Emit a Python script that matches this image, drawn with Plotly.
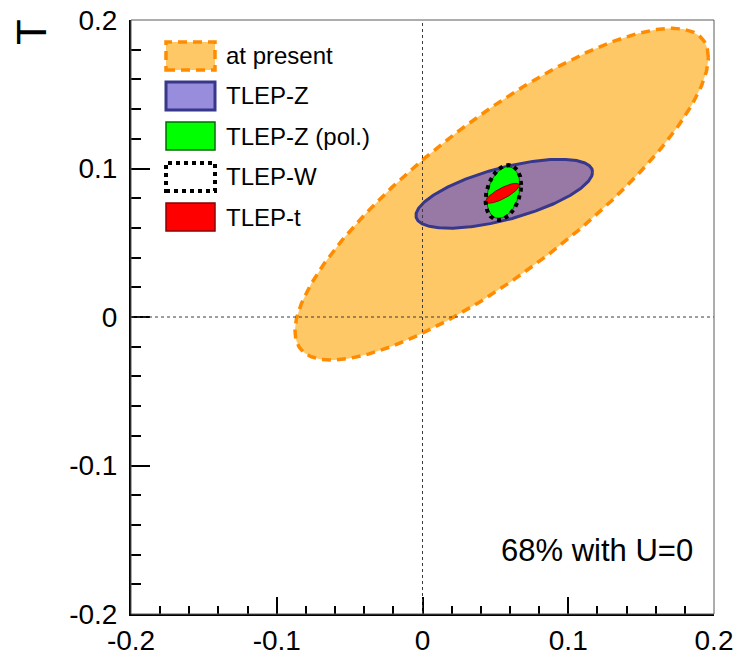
import numpy as np
import plotly.graph_objects as go

# ---- data: 68% CL ellipses in the (S, T) plane with U=0 ----
names = ["at present", "TLEP-Z", "TLEP-Z (pol.)", "TLEP-W", "TLEP-t"]
center_S = [0.0543, 0.0561, 0.0555, 0.0555, 0.0549]
center_T = [0.0827, 0.0830, 0.0838, 0.0838, 0.0833]
sigma_S = [0.1418, 0.0606, 0.0114, 0.0122, 0.0115]
sigma_T = [0.1117, 0.0232, 0.0174, 0.0185, 0.0067]
rho_ST = [0.825, 0.63, 0.28, 0.28, 0.80]

tick_vals = [-0.2, -0.1, 0, 0.1, 0.2]
tick_text = ["-0.2", "-0.1", "0", "0.1", "0.2"]

# styles
fills = ["rgb(254,200,102)", "rgba(97,78,201,0.65)", "rgb(0,255,0)", "rgba(0,0,0,0)", "rgb(255,0,0)"]
lines = ["rgb(255,140,0)", "rgb(55,55,140)", "rgb(0,110,0)", "black", "rgb(140,0,0)"]
widths = [3.5, 3, 1, 4, 1]
dashes = ["9px,6px", "solid", "solid", "4px,4px", "solid"]
draw_order = [0, 1, 2, 4, 3]

FONT = "Liberation Sans, Arial, Helvetica, sans-serif"
W, H = 739, 658
L, R, T, B = 131, 714, 20, 614

t = np.linspace(0, 2 * np.pi, 400)
fig = go.Figure()
for i in draw_order:
    xs = center_S[i] + sigma_S[i] * np.cos(t)
    ys = center_T[i] + sigma_T[i] * (rho_ST[i] * np.cos(t) + np.sqrt(1 - rho_ST[i] ** 2) * np.sin(t))
    fig.add_trace(go.Scatter(
        x=xs, y=ys, mode="lines", fill="toself", fillcolor=fills[i],
        line=dict(color=lines[i], width=widths[i], dash=dashes[i]),
        name=names[i], showlegend=False, hoverinfo="skip"))


def px_x(p):
    return (p - L) / (R - L)


def px_y(p):
    return (B - p) / (B - T)


shapes = []
# dotted zero lines
shapes.append(dict(type="line", xref="x", yref="y", x0=0, x1=0, y0=-0.2, y1=0.2,
                   line=dict(color="rgb(60,60,60)", width=1, dash="dot"), layer="above"))
shapes.append(dict(type="line", xref="x", yref="y", x0=-0.2, x1=0.2, y0=0, y1=0,
                   line=dict(color="rgb(60,60,60)", width=1, dash="dot"), layer="above"))
# frame
shapes.append(dict(type="rect", xref="paper", yref="paper", x0=0, x1=1, y0=0, y1=1,
                   line=dict(color="rgb(90,90,90)", width=1), layer="above"))

# manual legend
leg_tops = [42, 82, 122, 163, 203]
annotations = []
for k, name in enumerate(names):
    y0p, y1p = leg_tops[k], leg_tops[k] + 28
    fc = fills[k] if k != 1 else "rgb(152,140,220)"
    shapes.append(dict(type="rect", xref="paper", yref="paper",
                       x0=px_x(166), x1=px_x(215), y0=px_y(y1p), y1=px_y(y0p),
                       fillcolor=fc,
                       line=dict(color=lines[k], width=max(widths[k], 1.5) if k != 3 else 4,
                                 dash=dashes[k]), layer="above"))
    annotations.append(dict(xref="paper", yref="paper", x=px_x(224), y=px_y((y0p + y1p) / 2),
                            text=name, showarrow=False, xanchor="left", yanchor="middle",
                            font=dict(family=FONT, size=24, color="black")))

annotations.append(dict(xref="paper", yref="paper", x=px_x(695), y=px_y(550),
                        text="68% with U=0", showarrow=False, xanchor="right", yanchor="middle",
                        font=dict(family=FONT, size=31, color="black")))
annotations.append(dict(xref="paper", yref="paper", x=px_x(31), y=px_y(32),
                        text="T", showarrow=False, xanchor="center", yanchor="middle",
                        textangle=-90, font=dict(family=FONT, size=42, color="black")))

axis_common = dict(range=[-0.2, 0.2], tickvals=tick_vals, ticktext=tick_text,
                   ticks="inside", showgrid=False, zeroline=False, showline=True,
                   linecolor="black", linewidth=2, tickcolor="black", tickwidth=1.5,
                   automargin=False,
                   tickfont=dict(family=FONT, size=28, color="black"))

fig.update_layout(
    width=W, height=H, margin=dict(l=L, r=W - R, t=T, b=H - B),
    paper_bgcolor="white", plot_bgcolor="white",
    xaxis=dict(**axis_common, ticklen=17, ticklabelstandoff=0,
               minor=dict(dtick=0.02, ticklen=8, ticks="inside", tickcolor="black", tickwidth=1.5)),
    yaxis=dict(**axis_common, ticklen=19, ticklabelstandoff=6,
               minor=dict(dtick=0.02, ticklen=10, ticks="inside", tickcolor="black", tickwidth=1.5)),
    shapes=shapes, annotations=annotations, showlegend=False,
)

fig.write_html("out.html")
